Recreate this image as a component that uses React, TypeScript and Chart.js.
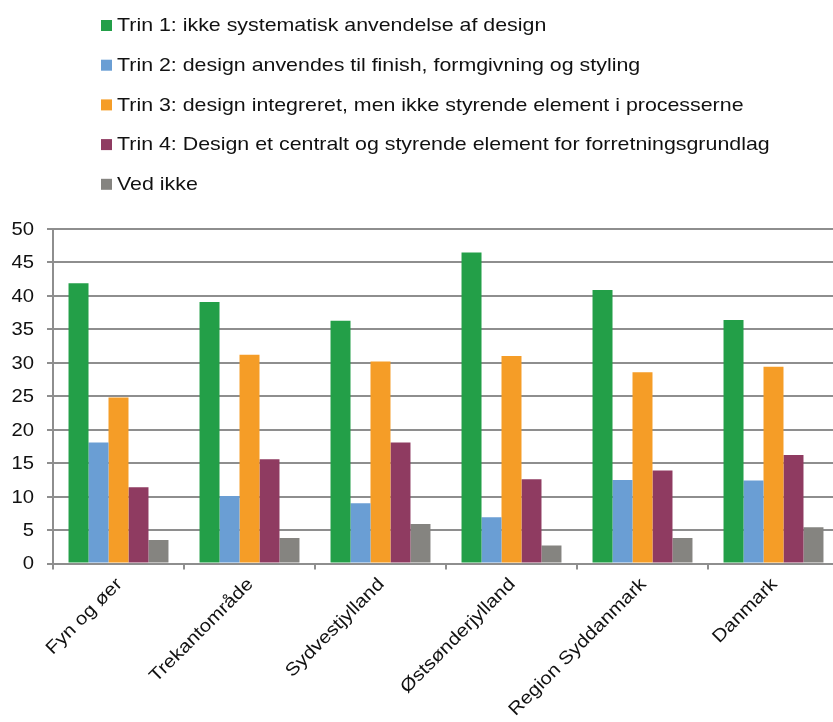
import React, { useEffect, useRef } from "react";
import { Chart, registerables } from "chart.js";

Chart.register(...registerables);

const categories = ["Fyn og øer", "Trekantområde", "Sydvestjylland", "Østsønderjylland", "Region Syddanmark", "Danmark"];
const seriesLabels = [
  "Trin 1: ikke systematisk anvendelse af design",
  "Trin 2: design anvendes til finish, formgivning og styling",
  "Trin 3: design integreret, men ikke styrende element i processerne",
  "Trin 4: Design et centralt og styrende element for forretningsgrundlag",
  "Ved ikke",
];
const trin1 = [41.9, 39.1, 36.3, 46.5, 40.9, 36.4];
const trin2 = [18.1, 10.1, 9.0, 6.9, 12.5, 12.4];
const trin3 = [24.8, 31.2, 30.2, 31.0, 28.6, 29.4];
const trin4 = [11.4, 15.6, 18.1, 12.6, 13.9, 16.2];
const vedIkke = [3.5, 3.8, 5.9, 2.7, 3.8, 5.4];
const colors = ["#239f48", "#6a9ed4", "#f59d27", "#8f3b61", "#858480"];
const yTicks = [0, 5, 10, 15, 20, 25, 30, 35, 40, 45, 50];

const FONT = 'Arial, "Liberation Sans", sans-serif';
const STRETCH = 1.125;

const textPlugin = {
  id: "stretchedText",
  afterDraw(chart: any) {
    const ctx = chart.ctx;
    ctx.save();
    ctx.fillStyle = "#111";
    // legend
    ctx.font = `19px ${FONT}`;
    ctx.textBaseline = "middle";
    ctx.textAlign = "left";
    chart.data.datasets.forEach((ds: any, i: number) => {
      const cy = 25.5 + i * 39.7;
      ctx.fillStyle = ds.backgroundColor;
      ctx.fillRect(101, cy - 5.5, 11, 11);
      ctx.fillStyle = "#111";
      ctx.save();
      ctx.translate(117, cy + 0.5);
      ctx.scale(STRETCH, 1);
      ctx.fillText(ds.label, 0, 0);
      ctx.restore();
    });
    // y tick labels
    const ys = chart.scales.y;
    ctx.font = `18px ${FONT}`;
    ctx.textAlign = "right";
    ctx.textBaseline = "middle";
    ys.ticks.forEach((t: any) => {
      const py = ys.getPixelForValue(t.value);
      ctx.save();
      ctx.translate(34, py + 1);
      ctx.scale(STRETCH, 1);
      ctx.fillText(String(t.value), 0, 0);
      ctx.restore();
    });
    // x tick labels
    const xs = chart.scales.x;
    ctx.textAlign = "right";
    ctx.textBaseline = "middle";
    chart.data.labels.forEach((lab: string, i: number) => {
      const px = xs.getPixelForValue(i);
      ctx.save();
      ctx.translate(px + 1, xs.top + 18);
      ctx.rotate(-Math.PI / 4);
      ctx.scale(1.14, 1);
      ctx.fillText(lab, 0, 0);
      ctx.restore();
    });
    ctx.restore();
  },
};

export default function App() {
  const ref = useRef<HTMLCanvasElement>(null);
  useEffect(() => {
    document.body.style.margin = "0";
    document.body.style.overflow = "hidden";
    document.documentElement.style.overflow = "hidden";
    const data = [trin1, trin2, trin3, trin4, vedIkke];
    const chart = new Chart(ref.current!, {
      type: "bar",
      data: {
        labels: categories,
        datasets: data.map((d, i) => ({
          label: seriesLabels[i],
          data: d,
          backgroundColor: colors[i],
          borderWidth: 0,
          categoryPercentage: 0.763,
          barPercentage: 1,
        })),
      },
      options: {
        animation: false,
        responsive: true,
        maintainAspectRatio: false,
        layout: { padding: { top: 229, left: 0, right: 0, bottom: 0 } },
        plugins: { legend: { display: false }, tooltip: { enabled: false } },
        scales: {
          x: {
            afterFit: (s: any) => { s.height = 722 - 563.5; },
            grid: {
              offset: true,
              drawOnChartArea: false,
              drawTicks: true,
              tickLength: 6,
              color: "#8e8e8e",
              lineWidth: 2,
            },
            border: { color: "#8e8e8e", width: 2 },
            ticks: { display: false, autoSkip: false },
          },
          y: {
            min: 0,
            max: 50,
            afterFit: (s: any) => { s.width = 53; },
            afterBuildTicks: (s: any) => { s.ticks = yTicks.map((v) => ({ value: v })); },
            grid: { color: "#8e8e8e", lineWidth: 2, tickLength: 6 },
            border: { color: "#8e8e8e", width: 2 },
            ticks: { display: false },
          },
        },
      },
      plugins: [textPlugin],
    });
    return () => chart.destroy();
  }, []);
  return (
    <div style={{ width: 839, height: 722, position: "relative" }}>
      <canvas ref={ref} />
    </div>
  );
}
